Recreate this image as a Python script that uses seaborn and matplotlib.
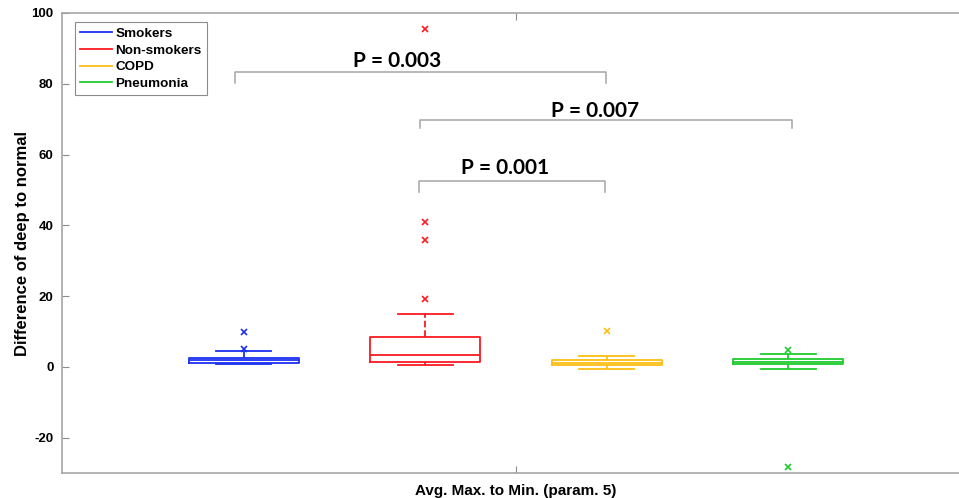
import pandas as pd
import matplotlib.pyplot as plt
import seaborn as sns
from matplotlib.lines import Line2D

# Wartości (różnica deep vs normal)
param_name = "Avg. Max. to Min. (param. 5)"
groups = ["Smokers", "Non-smokers", "COPD", "Pneumonia"]
colors = ["#1a2ff0", "#fb1a22", "#fdbf12", "#1fcc2e"]

smokers = [0.75, 0.9, 0.95, 1.0, 1.3, 1.6, 1.9, 2.1, 2.3, 2.5, 4.5, 5.1, 9.9]
non_smokers = [0.4, 0.7, 0.9, 1.0, 1.2, 1.3, 1.8, 2.3, 2.7, 3.1, 3.4,
               4.2, 5.3, 6.4, 7.5, 8.3, 15.0, 19.3, 35.8, 40.9, 95.5]
copd = [-0.5, 0.1, 0.3, 0.56, 0.7, 0.9, 1.2, 1.4, 1.6, 1.8, 2.4, 3.0, 10.0]
pneumonia = [-28.2, -0.65, 0.3, 0.75, 1.0, 1.3, 1.5, 1.8, 2.0, 2.2, 2.9, 3.7, 4.8]

# Porównania: (x lewy, x prawy, wysokość, tekst, x tekstu)
p_labels = ["P = 0.003", "P = 0.007", "P = 0.001"]
p_left = [-0.3095, -0.1052, -0.1068]
p_right = [0.0991, 0.3036, 0.098]
p_top = [83.4, 69.8, 52.6]
p_leg = [80.2, 67.5, 49.5]
p_text_x = [-0.1305, 0.0876, -0.0116]
p_text_y = [84.7, 70.6, 54.5]

values = [smokers, non_smokers, copd, pneumonia]
df = pd.DataFrame({
    "group": [g for g, v in zip(groups, values) for _ in v],
    "value": [x for v in values for x in v],
})
df["param"] = param_name

plt.rcParams["font.family"] = ["Liberation Sans", "DejaVu Sans"]
plt.rcParams["font.weight"] = "bold"
plt.rcParams["axes.unicode_minus"] = False

fig = plt.figure(figsize=(9.59, 4.98), dpi=100)
ax = fig.add_axes([62 / 959, 1 - 473 / 498, 908 / 959, 460 / 498])

sns.boxplot(data=df, x="param", y="value", hue="group", hue_order=groups,
            palette=colors, fill=False, width=0.8, gap=0.394, whis=1.5,
            linewidth=1.3, legend=False, ax=ax,
            whiskerprops=dict(linestyle="--"),
            flierprops=dict(marker="x", markersize=4, markeredgewidth=1.2))

ax.set_ylim(-30, 100)
ax.set_xlim(-0.5, 0.5)
ax.set_yticks([-20, 0, 20, 40, 60, 80, 100])
ax.set_xlabel("")
ax.set_ylabel("Difference of deep to normal", fontsize=12, fontweight="bold",
              labelpad=1)
ax.tick_params(direction="in", top=True, length=5, width=0.8,
               color="#8c8c8c", labelsize=9.5)
ax.tick_params(axis="x", labelsize=11, pad=8)
ax.tick_params(axis="y", pad=6)
for s in ["left", "bottom", "top"]:
    ax.spines[s].set_color("#a6a6a6")
    ax.spines[s].set_linewidth(1.2)
ax.spines["right"].set_visible(False)
for t in ax.get_xticklabels() + ax.get_yticklabels():
    t.set_fontweight("bold")

# Nawiasy z wartościami p
for lab, x0, x1, yt, yl, tx, ty in zip(p_labels, p_left, p_right, p_top,
                                       p_leg, p_text_x, p_text_y):
    ax.plot([x0, x0, x1, x1], [yl, yt, yt, yl], color="#a6a6a6", lw=1.1,
            clip_on=False)
    ax.text(tx, ty, lab, ha="center", va="baseline", fontsize=15,
            fontweight="bold", family=["Lato", "DejaVu Sans"])

handles = [Line2D([], [], color=c, lw=1.3) for c in colors]
leg = ax.legend(handles, groups, loc="upper left",
                bbox_to_anchor=(75 / 959, 1 - 22 / 498),
                bbox_transform=fig.transFigure, borderaxespad=0,
                handlelength=2.35, handletextpad=0.25,
                labelspacing=0.32, borderpad=0.4, fancybox=False,
                framealpha=1, edgecolor="#8c8c8c",
                prop={"weight": "bold", "size": 9.7})
leg.get_frame().set_linewidth(0.8)

plt.savefig("out.png", dpi=100)
